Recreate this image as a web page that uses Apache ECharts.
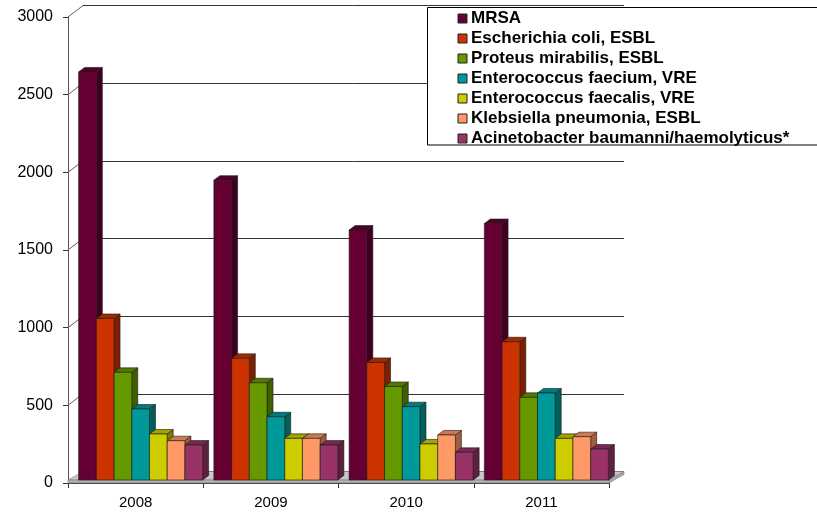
<!DOCTYPE html>
<html>
<head>
<meta charset="utf-8">
<script src="https://cdn.jsdelivr.net/npm/echarts@6/dist/echarts.min.js"></script>
<style>html,body{margin:0;padding:0;background:#fff}#chart{width:817px;height:513px}</style>
</head>
<body>
<div id="chart"></div>
<script>
// ---- data ----
const years = ['2008', '2009', '2010', '2011'];
const seriesNames = [
  'MRSA',
  'Escherichia coli, ESBL',
  'Proteus mirabilis, ESBL',
  'Enterococcus faecium, VRE',
  'Enterococcus faecalis, VRE',
  'Klebsiella pneumonia, ESBL',
  'Acinetobacter baumanni/haemolyticus*'
];
const mrsa = [2627, 1930, 1609, 1651];
const ecoli = [1040, 783, 757, 890];
const proteus = [693, 626, 602, 532];
const faecium = [457, 407, 472, 560];
const faecalis = [296, 268, 232, 268];
const klebsiella = [253, 268, 290, 279];
const acinetobacter = [225, 225, 178, 199];
const yTicks = [0, 500, 1000, 1500, 2000, 2500, 3000];

// ---- style ----
const frontColors = ['#660033', '#CC3300', '#669900', '#009999', '#CCCC00', '#FF9966', '#993366'];
const allValues = [mrsa, ecoli, proteus, faecium, faecalis, klebsiella, acinetobacter];
const FONT = '"Liberation Sans", Arial, sans-serif';
const DEPTH_X = 15, DEPTH_Y = -11.5;     // wall depth
const BAR_OX = 5, BAR_OY = -3;          // bar plane offset from front axis
const BAR_DX = 6, BAR_DY = -4.5;        // bar depth
const GROUP_RATIO = 0.917;

function shade(hex, f) {
  const n = parseInt(hex.slice(1), 16);
  const r = Math.round(((n >> 16) & 255) * f), g = Math.round(((n >> 8) & 255) * f), b = Math.round((n & 255) * f);
  return 'rgb(' + r + ',' + g + ',' + b + ')';
}

const chart = echarts.init(document.getElementById('chart'), null, { renderer: 'canvas' });

const barSeries = allValues.map((vals, s) => ({
  type: 'custom',
  name: seriesNames[s],
  xAxisIndex: 0, yAxisIndex: 0,
  z: 5,
  itemStyle: { color: frontColors[s] },
  encode: { x: 0, y: 1 },
  data: vals.map((v, i) => [i, v]),
  renderItem: function (params, api) {
    const idx = api.value(0), val = api.value(1);
    const top = api.coord([idx, val]);
    const base = api.coord([idx, 0]);
    const catW = api.size([1, 0])[0];
    const groupW = catW * GROUP_RATIO;
    const bw = groupW / 7;
    const x = top[0] - groupW / 2 + s * bw + BAR_OX;
    const yT = top[1] + BAR_OY, yB = base[1] + BAR_OY;
    const stroke = '#1a1a1a';
    const c = frontColors[s];
    return {
      type: 'group',
      children: [
        { type: 'polygon', shape: { points: [[x + bw, yT], [x + bw + BAR_DX, yT + BAR_DY], [x + bw + BAR_DX, yB + BAR_DY], [x + bw, yB]] },
          style: { fill: shade(c, 0.62), stroke: stroke, lineWidth: 0.6 } },
        { type: 'polygon', shape: { points: [[x, yT], [x + BAR_DX, yT + BAR_DY], [x + bw + BAR_DX, yT + BAR_DY], [x + bw, yT]] },
          style: { fill: shade(c, 0.8), stroke: stroke, lineWidth: 0.6 } },
        { type: 'rect', shape: { x: x, y: yT, width: bw, height: yB - yT },
          style: { fill: c, stroke: stroke, lineWidth: 0.6 } }
      ]
    };
  }
}));

const option = {
  animation: false,
  backgroundColor: '#ffffff',
  grid: [
    { left: 68, right: 208, top: 17, bottom: 30 },
    { left: 68 + DEPTH_X, right: 208 - DEPTH_X, top: 17 + DEPTH_Y, bottom: 30 - DEPTH_Y }
  ],
  xAxis: [
    { type: 'category', gridIndex: 0, data: years,
      axisLine: { lineStyle: { color: '#333', width: 1 } },
      axisTick: { show: true, length: 5, lineStyle: { color: '#333' } },
      axisLabel: { color: '#000', fontSize: 15, fontFamily: FONT, margin: 12 } },
    { type: 'category', gridIndex: 1, data: years, show: false }
  ],
  yAxis: [
    { type: 'value', gridIndex: 0, min: 0, max: 3000, interval: 500,
      axisLine: { show: true, lineStyle: { color: '#555', width: 1 } },
      axisTick: { show: true, length: 5, lineStyle: { color: '#333' } },
      axisLabel: { color: '#000', fontSize: 16, fontFamily: FONT, margin: 15,
        formatter: function (v) { return String(v); } },
      splitLine: { show: false } },
    { type: 'value', gridIndex: 1, min: 0, max: 3000, interval: 500,
      axisLine: { show: false }, axisTick: { show: false }, axisLabel: { show: false },
      splitLine: { show: true, lineStyle: { color: '#333', width: 1 } } }
  ],
  legend: {
    data: seriesNames,
    orient: 'vertical',
    left: 457.5, top: 10,
    padding: 0,
    itemWidth: 9, itemHeight: 9, itemGap: 3,
    icon: 'rect',
    itemStyle: { borderColor: '#222', borderWidth: 1 },
    textStyle: { color: '#000', fontWeight: 'bold', fontSize: 17, fontFamily: FONT, lineHeight: 16, padding: [0, 0, 0, -1] },
    selectedMode: false
  },
  graphic: [
    { type: 'rect', z: 3, shape: { x: 427.5, y: 7.5, width: 400, height: 137.5 },
      style: { fill: '#fff', stroke: '#000', lineWidth: 1 } }
  ],
  series: [
    { // side wall diagonals
      type: 'custom', name: 'sidewall', xAxisIndex: 0, yAxisIndex: 0, z: 1, silent: true,
      data: yTicks.map(v => [0, v]),
      renderItem: function (params, api) {
        const p = api.coord([0, api.value(1)]);
        const x0 = params.coordSys.x;
        return { type: 'line', shape: { x1: x0, y1: p[1], x2: x0 + DEPTH_X, y2: p[1] + DEPTH_Y },
          style: { stroke: '#606060', lineWidth: 1 } };
      }
    },
    { // floor
      type: 'custom', name: 'floor', xAxisIndex: 0, yAxisIndex: 0, z: 2, silent: true,
      data: [[0, 0]],
      renderItem: function (params, api) {
        const cs = params.coordSys;
        const xl = cs.x, xr = cs.x + cs.width, yb = cs.y + cs.height;
        const yf = yb + BAR_OY, yk = yb + DEPTH_Y;
        const st = { fill: '#c8c8c8', stroke: '#808080', lineWidth: 0.6 };
        return { type: 'group', children: [
          { type: 'polygon', shape: { points: [[xl, yf], [xl + DEPTH_X, yk], [xr + DEPTH_X, yk], [xr, yf]] }, style: st },
          { type: 'polygon', shape: { points: [[xr, yf], [xr + DEPTH_X, yk], [xr + DEPTH_X, yk + 3], [xr, yb]] }, style: { fill: '#a8a8a8', stroke: '#808080', lineWidth: 0.6 } },
          { type: 'rect', shape: { x: xl, y: yf, width: cs.width, height: yb - yf }, style: { fill: '#b0b0b0', stroke: '#808080', lineWidth: 0.6 } }
        ] };
      }
    }
  ].concat(barSeries)
};
chart.setOption(option);
</script>
</body>
</html>
